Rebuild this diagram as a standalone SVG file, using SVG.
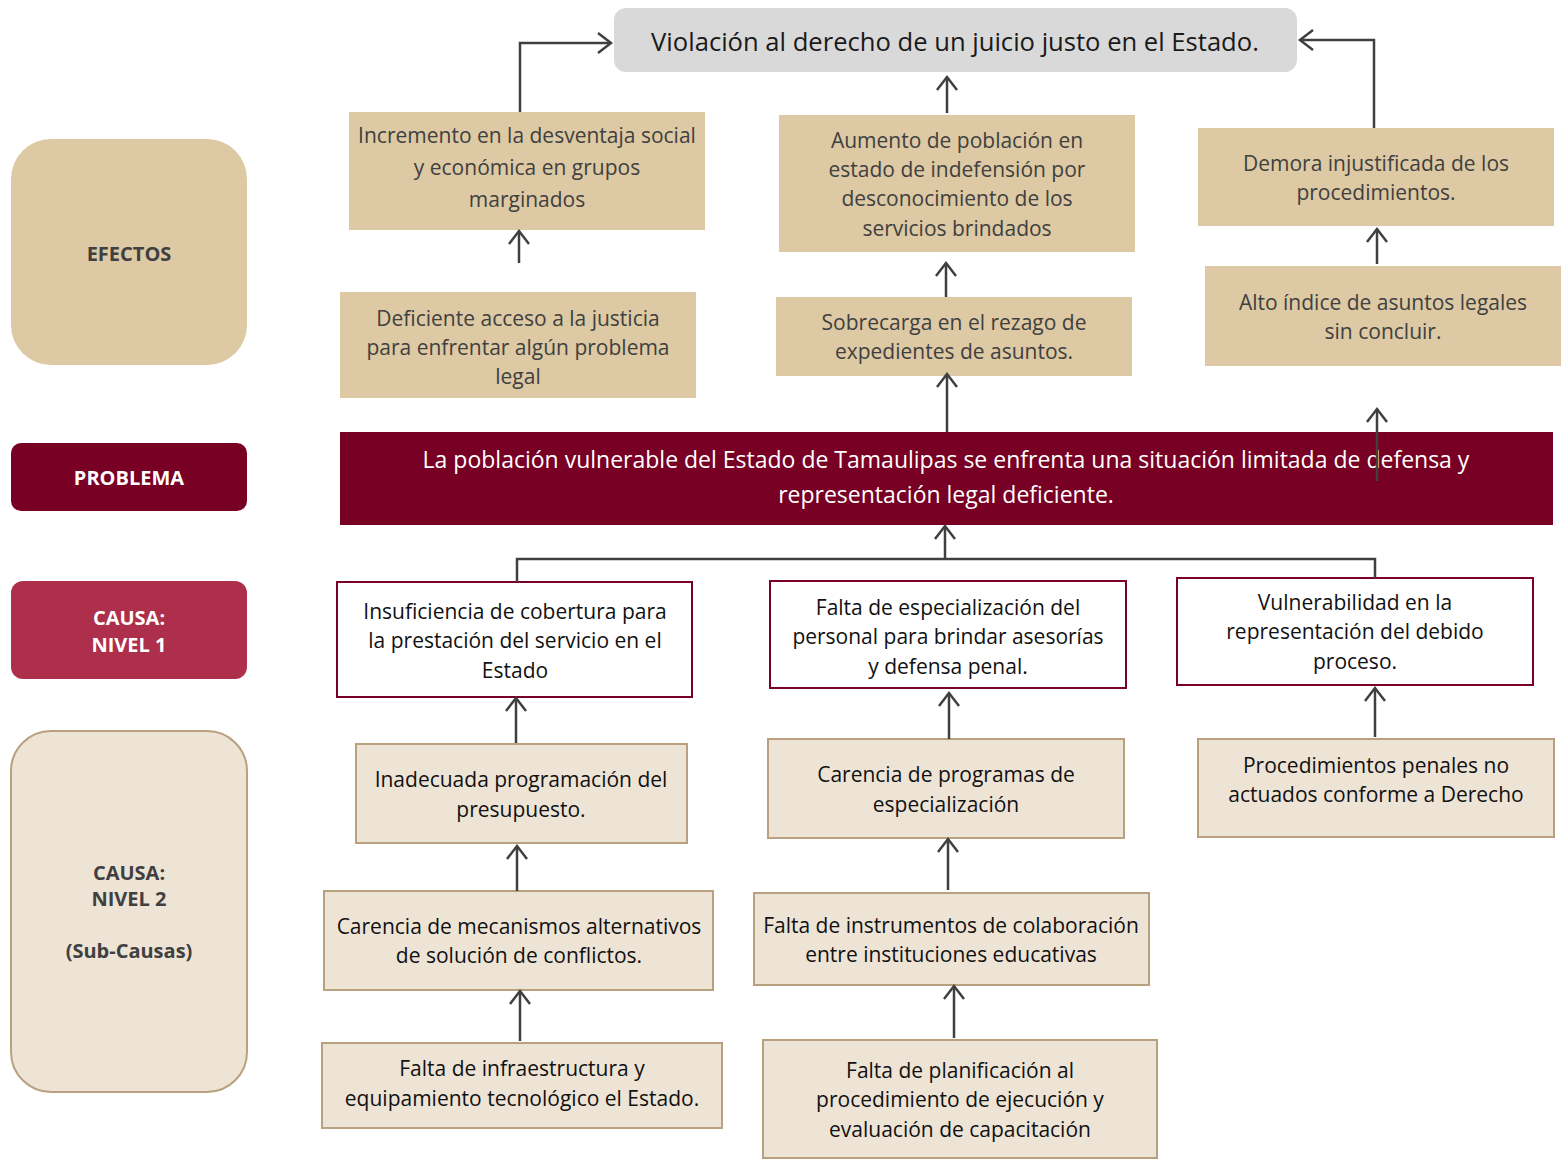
<svg xmlns="http://www.w3.org/2000/svg" width="1561" height="1160" viewBox="0 0 1561 1160">
<style>
text{font-family:"Open Sans","Noto Sans",sans-serif;text-anchor:middle;dominant-baseline:central}
.t{font-size:21px}
.eff rect{fill:#DDC9A3}
.eff text{fill:#404040}
.c1 rect{fill:#FFFFFF;stroke:#7A0025;stroke-width:2}
.c1 text{fill:#111111}
.c2 rect{fill:#EEE4D6;stroke:#B9A17F;stroke-width:2}
.c2 text{fill:#111111}
.lab{font-weight:bold;font-size:20px}
.con{fill:none;stroke:#404040;stroke-width:2.5}
</style>
<defs>
<marker id="ah" markerUnits="userSpaceOnUse" viewBox="0 0 18 24" refX="15" refY="12" markerWidth="18" markerHeight="24" orient="auto">
<path d="M2,2 L15,12 L2,22" fill="none" stroke="#404040" stroke-width="2.5"/>
</marker>
</defs>

<!-- side labels -->
<g id="lab-efectos"><rect x="11" y="139" width="236" height="226" rx="40" fill="#DDC9A3"/><text class="lab" x="129" y="253" fill="#404040">EFECTOS</text></g>
<g id="lab-problema"><rect x="11" y="443" width="236" height="68" rx="10" fill="#780024"/><text class="lab" x="129" y="477" fill="#FFFFFF">PROBLEMA</text></g>
<g id="lab-causa1"><rect x="11" y="581" width="236" height="98" rx="12" fill="#AD2F4C"/><text class="lab" x="129" y="617" fill="#FFFFFF">CAUSA:</text><text class="lab" x="129" y="644" fill="#FFFFFF">NIVEL 1</text></g>
<g id="lab-causa2"><rect x="11" y="731" width="236" height="361" rx="40" fill="#EEE4D6" stroke="#B9A17F" stroke-width="2"/><text class="lab" x="129" y="872" fill="#404040">CAUSA:</text><text class="lab" x="129" y="898" fill="#404040">NIVEL 2</text><text class="lab" x="129" y="950" fill="#404040">(Sub-Causas)</text></g>

<!-- top -->
<g id="fin"><rect x="614" y="8" width="683" height="64" rx="12" fill="#D9D9D9"/><text x="955" y="41" font-size="25.6" fill="#1a1a1a">Violación al derecho de un juicio justo en el Estado.</text></g>

<!-- effects -->
<g id="e1" class="eff t"><rect x="349" y="112" width="356" height="118"/><text x="527" y="135">Incremento en la desventaja social</text><text x="527" y="167">y económica en grupos</text><text x="527" y="199">marginados</text></g>
<g id="e1b" class="eff t"><rect x="340" y="292" width="356" height="106"/><text x="518" y="318">Deficiente acceso a la justicia</text><text x="518" y="347">para enfrentar algún problema</text><text x="518" y="376">legal</text></g>
<g id="e2" class="eff t"><rect x="779" y="115" width="356" height="137"/><text x="957" y="140">Aumento de población en</text><text x="957" y="169">estado de indefensión por</text><text x="957" y="198">desconocimiento de los</text><text x="957" y="228">servicios brindados</text></g>
<g id="e2b" class="eff t"><rect x="776" y="297" width="356" height="79"/><text x="954" y="322">Sobrecarga en el rezago de</text><text x="954" y="351">expedientes de asuntos.</text></g>
<g id="e3" class="eff t"><rect x="1198" y="128" width="356" height="98"/><text x="1376" y="163">Demora injustificada de los</text><text x="1376" y="192">procedimientos.</text></g>
<g id="e3b" class="eff t"><rect x="1205" y="266" width="356" height="100"/><text x="1383" y="302">Alto índice de asuntos legales</text><text x="1383" y="331">sin concluir.</text></g>

<!-- problem -->
<g id="problema"><rect x="340" y="432" width="1213" height="93" fill="#780024"/><text x="946" y="459" font-size="23" fill="#FFFFFF">La población vulnerable del Estado de Tamaulipas se enfrenta una situación limitada de defensa y</text><text x="946" y="494" font-size="23" fill="#FFFFFF">representación legal deficiente.</text></g>

<!-- causes level 1 -->
<g id="c1a" class="c1 t"><rect x="337" y="582" width="355" height="115"/><text x="515" y="611">Insuficiencia de cobertura para</text><text x="515" y="640">la prestación del servicio en el</text><text x="515" y="670">Estado</text></g>
<g id="c1b" class="c1 t"><rect x="770" y="581" width="356" height="107"/><text x="948" y="607">Falta de especialización del</text><text x="948" y="636">personal para brindar asesorías</text><text x="948" y="666">y defensa penal.</text></g>
<g id="c1c" class="c1 t"><rect x="1177" y="578" width="356" height="107"/><text x="1355" y="602">Vulnerabilidad en la</text><text x="1355" y="631">representación del debido</text><text x="1355" y="661">proceso.</text></g>

<!-- causes level 2 -->
<g id="c2a" class="c2 t"><rect x="356" y="744" width="331" height="99"/><text x="521" y="779">Inadecuada programación del</text><text x="521" y="809">presupuesto.</text></g>
<g id="c2b" class="c2 t"><rect x="324" y="891" width="389" height="99"/><text x="519" y="926">Carencia de mecanismos alternativos</text><text x="519" y="955">de solución de conflictos.</text></g>
<g id="c2c" class="c2 t"><rect x="322" y="1043" width="400" height="85"/><text x="522" y="1068">Falta de infraestructura y</text><text x="522" y="1098">equipamiento tecnológico el Estado.</text></g>
<g id="c2d" class="c2 t"><rect x="768" y="739" width="356" height="99"/><text x="946" y="774">Carencia de programas de</text><text x="946" y="804">especialización</text></g>
<g id="c2e" class="c2 t"><rect x="754" y="893" width="395" height="92"/><text x="951" y="925">Falta de instrumentos de colaboración</text><text x="951" y="954">entre instituciones educativas</text></g>
<g id="c2f" class="c2 t"><rect x="763" y="1040" width="394" height="118"/><text x="960" y="1070">Falta de planificación al</text><text x="960" y="1099">procedimiento de ejecución y</text><text x="960" y="1129">evaluación de capacitación</text></g>
<g id="c2g" class="c2 t"><rect x="1198" y="739" width="356" height="98"/><text x="1376" y="765">Procedimientos penales no</text><text x="1376" y="794">actuados conforme a Derecho</text></g>

<!-- connectors -->
<g id="connectors" class="con">
<path d="M520,112 V43 H611" marker-end="url(#ah)"/>
<path d="M1374,128 V40 H1300" marker-end="url(#ah)"/>
<path d="M947,113 V77" marker-end="url(#ah)"/>
<path d="M519,263 V231" marker-end="url(#ah)"/>
<path d="M946,297 V263" marker-end="url(#ah)"/>
<path d="M1377,264 V229" marker-end="url(#ah)"/>
<path d="M947,432 V374" marker-end="url(#ah)"/>
<path d="M1377,481 V409" marker-end="url(#ah)"/>
<path d="M517,582 V559 H1375 V578"/>
<path d="M945,559 V526" marker-end="url(#ah)"/>
<path d="M516,743 V698" marker-end="url(#ah)"/>
<path d="M517,891 V846" marker-end="url(#ah)"/>
<path d="M520,1041 V991" marker-end="url(#ah)"/>
<path d="M949,739 V693" marker-end="url(#ah)"/>
<path d="M948,890 V839" marker-end="url(#ah)"/>
<path d="M954,1038 V986" marker-end="url(#ah)"/>
<path d="M1375,737 V688" marker-end="url(#ah)"/>
</g>
</svg>
